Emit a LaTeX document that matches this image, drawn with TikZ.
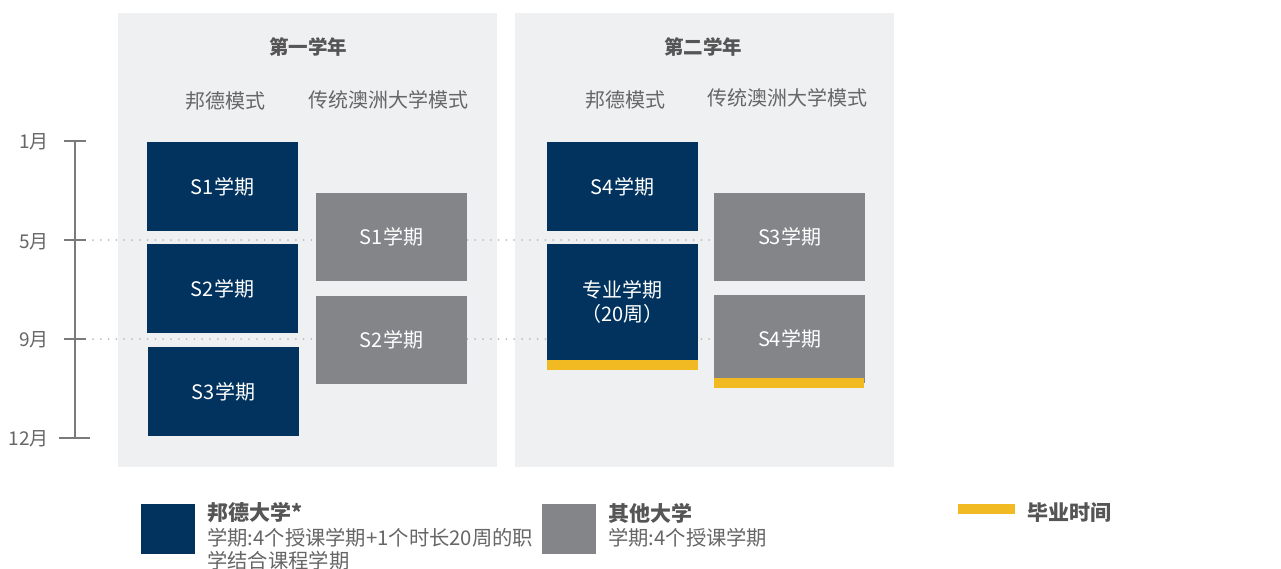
\documentclass[tikz,border=0pt]{standalone}
\usepackage{fontspec}
\setmainfont{Noto Sans CJK SC}
\definecolor{panelbg}{HTML}{EFF0F2}
\definecolor{bondblue}{HTML}{01335E}
\definecolor{tradgray}{HTML}{848589}
\definecolor{gradyellow}{HTML}{F2BA22}
\definecolor{txtgray}{HTML}{666666}
\definecolor{hdgray}{HTML}{555555}
\definecolor{axisgray}{HTML}{7A7A7A}
\definecolor{dotgray}{HTML}{BDBDBD}
\tikzset{
  panel/.style={fill=panelbg, draw=none, inner sep=0, minimum width=379pt, minimum height=454pt, anchor=north west},
  semb/.style={fill=bondblue, text=white, inner sep=0, minimum width=151pt, minimum height=89pt, font=\fontsize{20}{24}\selectfont},
  semg/.style={fill=tradgray, text=white, inner sep=0, minimum width=151pt, minimum height=88pt, font=\fontsize{20}{24}\selectfont},
  gradbar/.style={fill=gradyellow, draw=none, inner sep=0, minimum width=151pt, minimum height=10pt},
  yearhd/.style={text=hdgray, font=\fontsize{19.5}{22}\selectfont\bfseries},
  modehd/.style={text=txtgray, font=\fontsize{20}{24}\selectfont},
  monthlbl/.style={text=txtgray, font=\fontsize{19}{22}\selectfont, anchor=east, inner sep=0},
  axis/.style={draw=axisgray, line width=2pt},
  guide/.style={draw=dotgray, line width=2pt, line cap=round, dash pattern=on 0pt off 7.8pt},
  legbox/.style={inner sep=0, minimum width=54pt, minimum height=50pt, anchor=north west},
  legtitle/.style={text=hdgray, font=\fontsize{21}{24}\selectfont\bfseries, anchor=west, inner sep=0},
  legtext/.style={text=txtgray, font=\fontsize{20.3}{23}\selectfont, anchor=north west, inner sep=0, align=left},
}
\begin{document}
\begin{tikzpicture}[x=1pt,y=-1pt]
\useasboundingbox (0,0) rectangle (1281,568);
\fill[white] (0,0) rectangle (1281,568);
% panels
\node[panel] (p1) at (118,13) {};
\node[panel] (p2) at (515,13) {};
% headers
\node[yearhd] (y1) at (308,47) {第一学年};
\node[yearhd] (y2) at (703,47) {第二学年};
\node[modehd] (m1a) at (225,101) {邦德模式};
\node[modehd] (m1b) at (388,100) {传统澳洲大学模式};
\node[modehd] (m2a) at (625,100) {邦德模式};
\node[modehd] (m2b) at (787,98) {传统澳洲大学模式};
% axis
\coordinate (t1) at (75,141);
\coordinate (t5) at (75,240);
\coordinate (t9) at (75,339);
\coordinate (t12) at (75,438);
\draw[axis] (t1) -- (t12);
\draw[axis] ([xshift=-11pt]t1) -- ([xshift=11pt]t1);
\draw[axis] ([xshift=-11pt]t5) -- ([xshift=11pt]t5);
\draw[axis] ([xshift=-11pt]t9) -- ([xshift=11pt]t9);
\draw[axis] ([xshift=-16pt]t12) -- ([xshift=15pt]t12);
\node[monthlbl] (l1) at (49,142) {1月};
\node[monthlbl] (l5) at (49,242) {5月};
\node[monthlbl] (l9) at (49,340) {9月};
\node[monthlbl] (l12) at (49,439) {12月};
% guides
\coordinate (g5a) at (93,240);
\coordinate (g5b) at (714,240);
\coordinate (g9a) at (93,339);
\coordinate (g9b) at (714,339);
\draw[guide] (g5a) -- (g5b);
\draw[guide] (g9a) -- (g9b);
% year 1 boxes
\node[semb] (b1) at (222.5,186.5) {S1学期};
\node[semb] (b2) at (222.5,288.5) {S2学期};
\node[semb] (b3) at (223.5,391.5) {S3学期};
\node[semg] (g1) at (391.5,237) {S1学期};
\node[semg] (g2) at (391.5,340) {S2学期};
% year 2 boxes
\node[semb] (b4) at (622.5,186.5) {S4学期};
\node[semb, minimum height=116pt, align=center] (bw) at (622.5,302) {专业学期\\（20周）};
\node[gradbar] (yb) at (622.5,365) {};
\node[semg] (g3) at (789.5,237) {S3学期};
\node[semg] (g4) at (789.5,339) {S4学期};
\node[gradbar, minimum width=150pt] (yg) at (788.5,382.5) {};
% legend
\node[legbox, fill=bondblue] (lb) at (141,504) {};
\node[legtitle] (lbt) at (207,513) {邦德大学*};
\node[legtext] (lbx) at (207,528) {学期:4个授课学期+1个时长20周的职\\学结合课程学期};
\node[legbox, fill=tradgray] (lg) at (542,504) {};
\node[legtitle] (lgt) at (608,513) {其他大学};
\node[legtext] (lgx) at (608,528) {学期:4个授课学期};
\node[fill=gradyellow, inner sep=0, minimum width=57pt, minimum height=10pt] (ly) at (986.5,509) {};
\node[legtitle] (lyt) at (1027,513) {毕业时间};
\end{tikzpicture}
\end{document}
